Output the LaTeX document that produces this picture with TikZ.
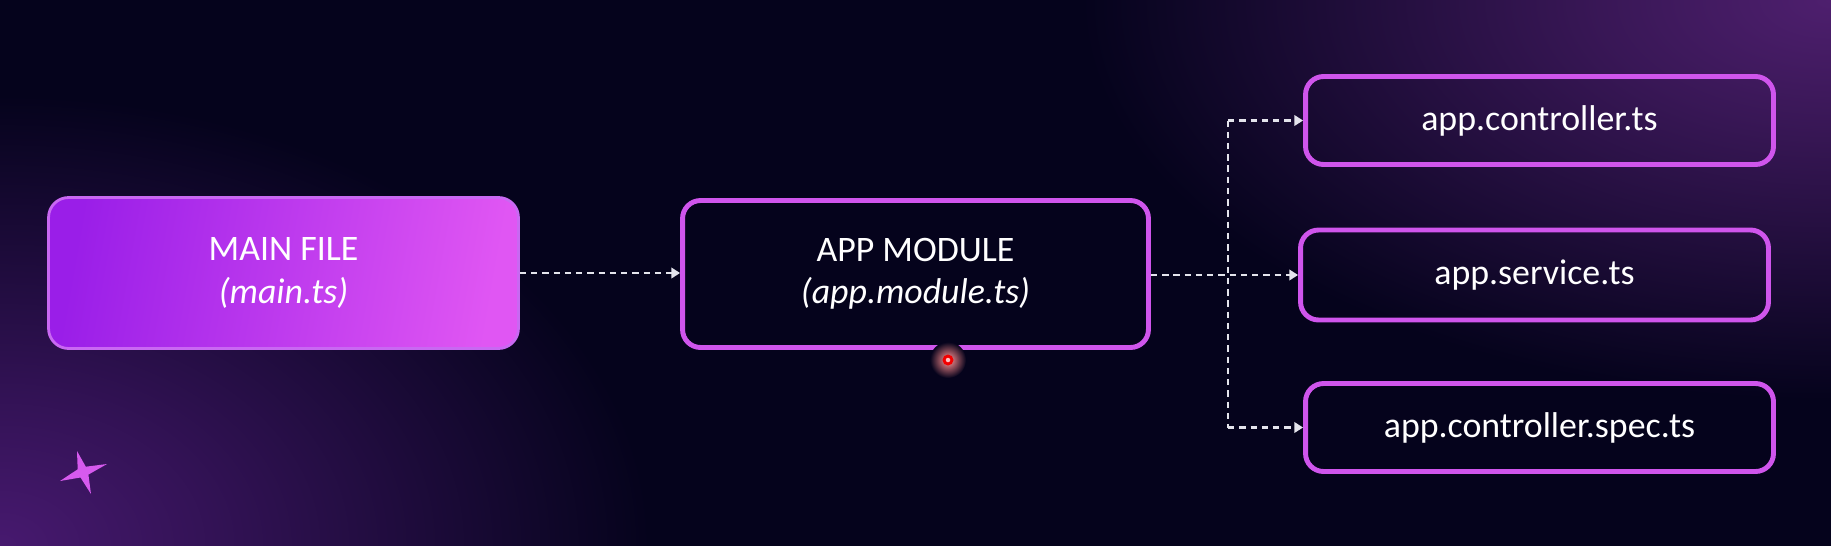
\documentclass[tikz,border=0pt]{standalone}
\usepackage{fontspec}
\setmainfont{Carlito}
\usetikzlibrary{arrows.meta,calc}
\definecolor{bg}{HTML}{05031C}
\definecolor{glowA}{HTML}{47196F}
\definecolor{glowB}{HTML}{4E1F6E}
\definecolor{edge}{HTML}{CF55EC}
\definecolor{mainL}{HTML}{9A1EE8}
\definecolor{mainR}{HTML}{E056F3}
\definecolor{mainEdge}{HTML}{C968F2}
\definecolor{dashc}{HTML}{E4E4EC}
\definecolor{starc}{HTML}{D65AEE}
\pgfdeclareradialshading{glowshadeA}{\pgfpoint{0bp}{0bp}}{color(0bp)=(glowA); color(8bp)=(glowA!70!bg); color(25bp)=(bg); color(50bp)=(bg)}
\pgfdeclareradialshading{glowshadeB}{\pgfpoint{0bp}{0bp}}{color(0bp)=(glowB); color(8bp)=(glowB!70!bg); color(25bp)=(bg); color(50bp)=(bg)}
\pgfdeclareradialshading{dotglow}{\pgfpoint{0bp}{0bp}}{color(0bp)=(red!40!white); color(12bp)=(red!45!white!55!bg); color(25bp)=(bg); color(50bp)=(bg)}
\begin{document}
\begin{tikzpicture}[x=0.02cm,y=-0.02cm,
  boxtext/.style={text=white, align=center, inner sep=0pt, font=\fontsize{20.4}{24}\selectfont},
  filebox/.style={boxtext, draw=edge, line width=2.8pt, rounded corners=0.36cm},
  mainbox/.style={boxtext, draw=mainEdge, line width=1.6pt, rounded corners=0.4cm, left color=mainL, right color=mainR, shading angle=80},
  conn/.style={draw=dashc, line width=1.2pt, dash pattern=on 3.6pt off 2.8pt, -{Triangle[length=5pt,width=6pt]}},
  connline/.style={draw=dashc, line width=1.2pt, dash pattern=on 3.6pt off 2.8pt}]
% background
\useasboundingbox (0,0) rectangle (1831,545);
\fill[bg] (-10,-10) rectangle (1841,555);
\begin{scope}
  \clip (-10,-10) rectangle (1841,555);
  \shade[shading=glowshadeA] (0,545) ellipse (13cm and 9cm);
  \shade[shading=glowshadeB] (1831,0) ellipse (15cm and 8cm);
\end{scope}
% nodes
\node[mainbox, minimum width=9.4cm, minimum height=3.02cm] (main) at (283.5,273) {MAIN FILE\\\textit{(main.ts)}};
\node[filebox, minimum width=9.32cm, minimum height=2.94cm] (app) at (915.5,274) {APP MODULE\\\textit{(app.module.ts)}};
\node[filebox, minimum width=9.36cm, minimum height=1.76cm] (ctrl) at (1539.5,120.5) {app.controller.ts};
\node[filebox, minimum width=9.36cm, minimum height=1.8cm] (svc) at (1534.5,275) {app.service.ts};
\node[filebox, minimum width=9.36cm, minimum height=1.76cm] (spec) at (1539.5,427.5) {app.controller.spec.ts};
% connectors
\coordinate (J) at (1228,275);
\draw[conn] (main.east) -- (main.east -| app.west);
\draw[conn] (app.east |- svc.west) -- (svc.west);
\draw[connline] (J |- ctrl.west) -- (J |- spec.west);
\draw[conn] (J |- ctrl.west) -- (ctrl.west);
\draw[conn] (J |- spec.west) -- (spec.west);
% star
\fill[starc] (77,451) -- (85.8,466.7) -- (107,464) -- (88.4,474.6) -- (91,494) -- (80.5,477.5) -- (60,481) -- (77.7,469.3) -- cycle;
% laser pointer dot
\shade[shading=dotglow] (948,360) circle (0.36cm);
\fill[red!95!black] (948,360) circle (0.11cm);
\fill[red!25!white] (948,360) circle (0.045cm);
\end{tikzpicture}
\end{document}
